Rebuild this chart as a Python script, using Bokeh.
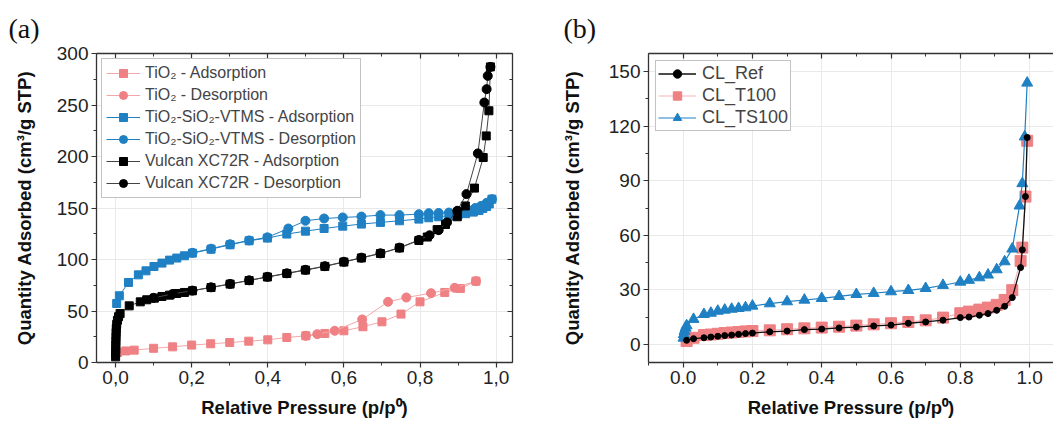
from bokeh.plotting import figure
from bokeh.layouts import row
from bokeh.models import (LinearAxis, SingleIntervalTicker, CustomJSTickFormatter,
                          Legend, LegendItem, Range1d)
from bokeh.embed import file_html
from bokeh.resources import INLINE

# ---------------- data: panel (a) ----------------
tio2_ads_x = [0.005, 0.027, 0.049, 0.10, 0.15, 0.20, 0.25, 0.30, 0.35, 0.40, 0.45, 0.50, 0.55,
              0.60, 0.65, 0.70, 0.75, 0.80, 0.865, 0.906, 0.947]
tio2_ads_y = [9.7, 11.2, 12.0, 13.8, 15.2, 16.9, 18.2, 19.4, 20.7, 22.0, 24.3, 25.9, 28.2,
              30.8, 34.7, 39.5, 47.0, 58.9, 68.0, 71.8, 79.0]
tio2_des_x = [0.947, 0.891, 0.829, 0.764, 0.716, 0.648, 0.576, 0.530, 0.500]
tio2_des_y = [79.0, 72.5, 67.3, 63.1, 58.9, 41.8, 30.8, 27.5, 26.0]

vtms_ads_x = [0.003, 0.010, 0.034, 0.060, 0.080, 0.101, 0.122, 0.142, 0.161, 0.181,
              0.202, 0.251, 0.301, 0.351, 0.399, 0.450, 0.499, 0.548, 0.597, 0.646,
              0.696, 0.746, 0.797, 0.823, 0.849, 0.876, 0.900, 0.920, 0.940, 0.955,
              0.965, 0.975, 0.982, 0.989]
vtms_ads_y = [57.3, 64.8, 77.7, 85.1, 89.0, 93.2, 96.5, 99.4, 101.4, 103.6,
              106.2, 110.0, 114.3, 118.2, 120.8, 124.7, 127.5, 130.1, 132.4, 134.4,
              136.0, 137.6, 139.2, 140.5, 141.5, 142.5, 143.5, 144.5, 146.0, 147.5,
              149.5, 151.5, 154.0, 158.6]
vtms_des_x = [0.989, 0.975, 0.960, 0.945, 0.925, 0.900, 0.876, 0.849, 0.823, 0.797,
              0.746, 0.696, 0.646, 0.597, 0.548, 0.499, 0.454, 0.399, 0.351, 0.301,
              0.251, 0.202]
vtms_des_y = [158.6, 155.0, 152.0, 150.0, 148.5, 147.0, 145.6, 145.2, 145.0, 144.0,
              143.1, 143.1, 141.7, 140.8, 139.8, 137.6, 130.1, 121.5, 118.5, 114.8,
              110.5, 106.5]

vulcan_ads_x = [0.0002, 0.0004, 0.0006, 0.0008, 0.001, 0.0013, 0.0016, 0.002, 0.003, 0.005,
                0.008, 0.012, 0.036, 0.065, 0.082, 0.102, 0.122, 0.142, 0.161, 0.181,
                0.202, 0.251, 0.301, 0.351, 0.399, 0.450, 0.499, 0.550, 0.600, 0.646,
                0.696, 0.746, 0.797, 0.819, 0.845, 0.867, 0.898, 0.919, 0.943, 0.966,
                0.974, 0.981, 0.985]
vulcan_ads_y = [5.5, 9.0, 13.0, 17.0, 21.0, 25.0, 29.0, 33.0, 37.0, 41.0,
                44.5, 47.5, 55.0, 58.9, 60.9, 62.5, 64.1, 65.4, 67.0, 68.0,
                69.6, 72.8, 76.1, 79.6, 83.0, 86.4, 89.7, 93.3, 97.5, 101.5,
                105.8, 111.2, 118.5, 121.8, 129.0, 134.0, 141.5, 152.0, 169.3, 199.0,
                220.0, 244.4, 287.0]
vulcan_des_x = [0.985, 0.978, 0.975, 0.969, 0.952, 0.922, 0.898, 0.871, 0.849, 0.825,
                0.797, 0.746, 0.696, 0.646, 0.600, 0.550, 0.499, 0.450, 0.399, 0.351,
                0.301, 0.251, 0.202, 0.150, 0.100]
vulcan_des_y = [287.0, 278.3, 265.4, 252.4, 203.0, 163.5, 147.3, 136.0, 128.5, 123.5,
                119.0, 111.5, 106.0, 101.8, 97.8, 93.5, 90.0, 86.6, 83.2, 79.8,
                76.3, 73.0, 69.8, 66.5, 62.8]

labels_a = ["TiO\u2082 - Adsorption", "TiO\u2082 - Desorption",
            "TiO\u2082-SiO\u2082-VTMS - Adsorption", "TiO\u2082-SiO\u2082-VTMS - Desorption",
            "Vulcan XC72R - Adsorption", "Vulcan XC72R - Desorption"]

# ---------------- data: panel (b) ----------------
cl_x = [0.01, 0.03, 0.06, 0.08, 0.10, 0.12, 0.14, 0.16, 0.18, 0.20,
        0.25, 0.30, 0.35, 0.40, 0.45, 0.50, 0.55, 0.60, 0.65, 0.70,
        0.75, 0.80, 0.825, 0.855, 0.88, 0.905, 0.928, 0.95, 0.974, 0.979,
        0.988, 0.993]
cl_ref_y = [2.2, 3.1, 3.6, 4.0, 4.4, 4.8, 5.1, 5.5, 5.9, 6.2,
            6.9, 7.3, 8.1, 8.4, 9.0, 9.5, 10.1, 10.6, 11.6, 12.3,
            13.3, 14.7, 15.0, 16.0, 16.9, 18.7, 20.9, 25.7, 42.2, 52.0,
            81.3, 113.8]
cl_t100_y = [1.8, 3.6, 5.1, 5.4, 5.8, 6.2, 6.5, 6.8, 7.1, 7.3,
             7.7, 8.3, 8.8, 9.2, 9.7, 10.3, 11.0, 11.6, 12.3, 13.2,
             14.7, 17.1, 18.0, 19.1, 20.2, 21.7, 24.4, 29.8, 45.9, 53.2,
             81.3, 112.0]
cl_ts100_x = [0.001, 0.002, 0.004, 0.007, 0.01, 0.03, 0.06, 0.08, 0.10, 0.12,
              0.14, 0.16, 0.18, 0.20, 0.25, 0.30, 0.35, 0.40, 0.45, 0.50,
              0.55, 0.60, 0.65, 0.70, 0.75, 0.80, 0.825, 0.855, 0.88, 0.905,
              0.928, 0.95, 0.971, 0.979, 0.986, 0.993]
cl_ts100_y = [3.5, 5.5, 7.3, 9.0, 10.3, 13.8, 16.5, 17.2, 18.3, 18.9,
              19.4, 19.8, 20.2, 21.1, 22.4, 23.5, 24.4, 25.3, 26.4, 27.5,
              28.1, 29.0, 29.7, 30.8, 32.5, 34.3, 35.3, 36.7, 38.2, 41.1,
              45.5, 52.5, 76.2, 88.5, 114.2, 143.8]
labels_b = ["CL_Ref", "CL_T100", "CL_TS100"]

x_label = "Relative Pressure (p/p\u2070)"
y_label = "Quantity Adsorbed (cm\u00b3/g STP)"

# ---------------- styling ----------------
FONT = "Liberation Sans"
PINK = "#EF8083"
PINK_LINE = "#F4A7AA"
BLUE = "#1F80C4"
BLACK = "#000000"
AXC = "#333333"
H = 424
TOP = 53
FRAME_H = 309


def style_axis(ax, ticker, fmt=None, labels=True, inward=False, label=None, lab_standoff=10):
    ax.ticker = ticker
    ax.axis_line_color = AXC
    ax.axis_line_width = 1.3
    ax.major_tick_line_color = AXC
    ax.minor_tick_line_color = AXC
    ax.major_tick_line_width = 1.2
    ax.minor_tick_line_width = 1.0
    if inward:
        ax.major_tick_in, ax.major_tick_out = 5, 0
        ax.minor_tick_in, ax.minor_tick_out = 3, 0
    else:
        ax.major_tick_in, ax.major_tick_out = 0, 5
        ax.minor_tick_in, ax.minor_tick_out = 0, 3
    if labels:
        if fmt is not None:
            ax.formatter = fmt
        ax.major_label_text_font = FONT
        ax.major_label_text_font_size = "19px"
        ax.major_label_text_color = "#222222"
        ax.major_label_standoff = 3
    else:
        ax.formatter = CustomJSTickFormatter(code="return '';")
        ax.major_label_standoff = 0
    if label:
        ax.axis_label = label
        ax.axis_label_text_font = FONT
        ax.axis_label_text_font_size = "18.5px"
        ax.axis_label_text_font_style = "bold"
        ax.axis_label_text_color = "#111111"
        ax.axis_label_standoff = lab_standoff


def base_fig(width, xr, yr, bl, br, tag, tag_offset):
    p = figure(width=width, height=H, x_range=Range1d(*xr), y_range=Range1d(*yr),
               output_backend="svg", toolbar_location=None, tools="",
               min_border_left=bl, min_border_right=br, min_border_top=TOP,
               min_border_bottom=H - TOP - FRAME_H)
    p.outline_line_color = None
    p.title.text = tag
    p.title.text_font = "Liberation Serif"
    p.title.text_font_size = "28px"
    p.title.text_font_style = "normal"
    p.title.text_color = "#111111"
    p.title.align = "left"
    p.title.offset = tag_offset
    p.title.standoff = 20
    p.xgrid.grid_line_color = "#e9e9e9"
    p.ygrid.grid_line_color = "#e9e9e9"
    return p


# ---------------- panel (a) ----------------
pa = base_fig(530, (-0.05, 1.043), (0, 300), 96, 18, "(a)", -88)
fmt_comma = CustomJSTickFormatter(code="return tick.toFixed(1).replace('.', ',');")
style_axis(pa.xaxis[0], SingleIntervalTicker(interval=0.2, num_minor_ticks=2), fmt_comma,
           label=x_label, lab_standoff=10)
style_axis(pa.yaxis[0], SingleIntervalTicker(interval=50, num_minor_ticks=2),
           label=y_label, lab_standoff=19)
top_a = LinearAxis()
style_axis(top_a, SingleIntervalTicker(interval=0.2, num_minor_ticks=2), labels=False, inward=True)
pa.add_layout(top_a, "above")
right_a = LinearAxis()
style_axis(right_a, SingleIntervalTicker(interval=50, num_minor_ticks=2), labels=False, inward=True)
pa.add_layout(right_a, "right")
pa.xgrid.ticker = SingleIntervalTicker(interval=0.2)
pa.ygrid.ticker = SingleIntervalTicker(interval=50)

series_a = [
    (tio2_ads_x, tio2_ads_y, "square", PINK, PINK_LINE, 8),
    (tio2_des_x, tio2_des_y, "circle", PINK, PINK_LINE, 9),
    (vtms_ads_x, vtms_ads_y, "square", BLUE, BLUE, 8),
    (vtms_des_x, vtms_des_y, "circle", BLUE, BLUE, 9),
    (vulcan_ads_x, vulcan_ads_y, "square", BLACK, "#444444", 8),
    (vulcan_des_x, vulcan_des_y, "circle", BLACK, "#444444", 9),
]
items_a = []
for (xs, ys, mk, c, lc, sz), lab in zip(series_a, labels_a):
    lr = pa.line(xs, ys, line_color=lc, line_width=1)
    sr = pa.scatter(xs, ys, marker=mk, size=sz, fill_color=c, line_color=c)
    items_a.append(LegendItem(label=lab, renderers=[lr, sr]))
leg_a = Legend(items=items_a, location="top_left", margin=5, padding=4, spacing=2,
               label_height=20, glyph_height=20, glyph_width=34, label_standoff=5,
               label_text_font=FONT, label_text_font_size="16px",
               border_line_color="#888888", border_line_width=1,
               background_fill_alpha=1.0)
pa.add_layout(leg_a, "center")

# ---------------- panel (b) ----------------
pb = base_fig(523, (-0.1, 1.069), (-10, 160), 118, 0, "(b)", -85)
fmt_dot = CustomJSTickFormatter(code="return tick.toFixed(1);")
style_axis(pb.xaxis[0], SingleIntervalTicker(interval=0.2, num_minor_ticks=2), fmt_dot,
           label=x_label, lab_standoff=10)
style_axis(pb.yaxis[0], SingleIntervalTicker(interval=30, num_minor_ticks=2),
           label=y_label, lab_standoff=23)
top_b = LinearAxis()
style_axis(top_b, SingleIntervalTicker(interval=0.2, num_minor_ticks=2), labels=False, inward=True)
pb.add_layout(top_b, "above")
pb.xgrid.ticker = SingleIntervalTicker(interval=0.2)
pb.ygrid.ticker = SingleIntervalTicker(interval=30)

l_t = pb.line(cl_x, cl_t100_y, line_color="#F6B5B7", line_width=1.2)
s_t = pb.scatter(cl_x, cl_t100_y, marker="square", size=11, fill_color=PINK, line_color=PINK)
l_s = pb.line(cl_ts100_x, cl_ts100_y, line_color=BLUE, line_width=1.2)
s_s = pb.scatter(cl_ts100_x, cl_ts100_y, marker="triangle", size=11, fill_color=BLUE, line_color=BLUE)
l_r = pb.line(cl_x, cl_ref_y, line_color="#111111", line_width=1.3)
s_r = pb.scatter(cl_x, cl_ref_y, marker="circle", size=6, fill_color=BLACK, line_color=BLACK)
leg_b = Legend(items=[LegendItem(label=labels_b[0], renderers=[l_r, s_r]),
                      LegendItem(label=labels_b[1], renderers=[l_t, s_t]),
                      LegendItem(label=labels_b[2], renderers=[l_s, s_s])],
               location="top_left", margin=7, padding=2, spacing=1,
               label_height=21, glyph_height=21, glyph_width=38, label_standoff=6,
               label_text_font=FONT, label_text_font_size="18px",
               border_line_color="#888888", border_line_width=1)
pb.add_layout(leg_b, "center")

layout = row(pa, pb)
open("out.html", "w").write(file_html(layout, INLINE))
